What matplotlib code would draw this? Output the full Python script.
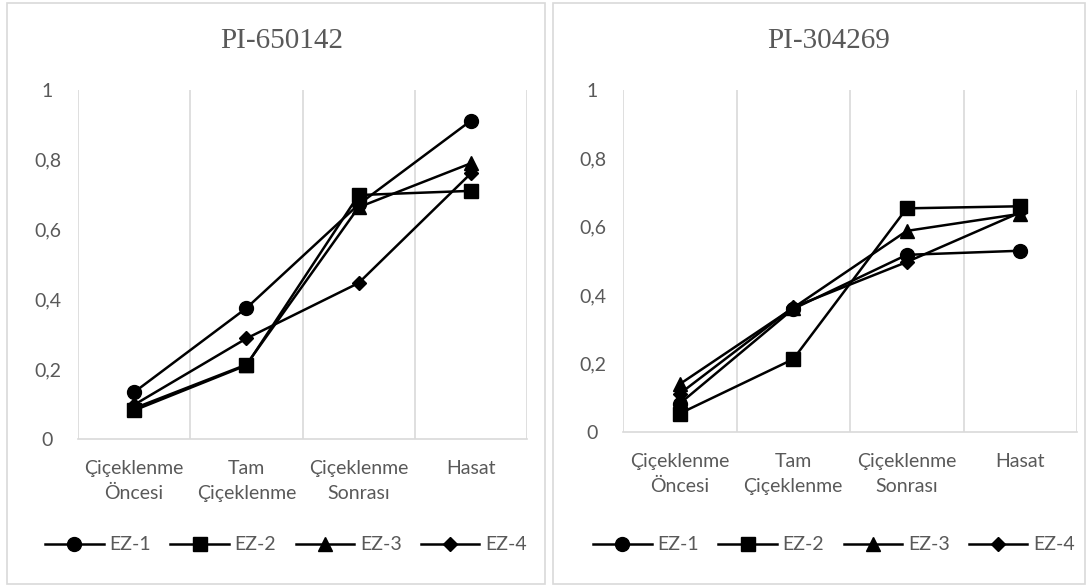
import matplotlib.pyplot as plt
from matplotlib.patches import Rectangle
from matplotlib.ticker import FuncFormatter

categories = ["Çiçeklenme\nÖncesi", "Tam\nÇiçeklenme", "Çiçeklenme\nSonrası", "Hasat"]
series_names = ["EZ-1", "EZ-2", "EZ-3", "EZ-4"]
markers = ["o", "s", "^", "D"]
marker_sizes = [10, 9.5, 9.5, 7]

# PI-650142
pi650_ez1 = [0.134, 0.375, 0.672, 0.912]
pi650_ez2 = [0.082, 0.211, 0.699, 0.711]
pi650_ez3 = [0.088, 0.213, 0.664, 0.790]
pi650_ez4 = [0.098, 0.288, 0.447, 0.761]

# PI-304269
pi304_ez1 = [0.083, 0.360, 0.518, 0.530]
pi304_ez2 = [0.054, 0.213, 0.654, 0.660]
pi304_ez3 = [0.140, 0.363, 0.588, 0.638]
pi304_ez4 = [0.112, 0.365, 0.497, 0.642]

yticks = [0, 0.2, 0.4, 0.6, 0.8, 1]

TEXT = "#595959"
GRID = "#d9d9d9"
plt.rcParams['font.family'] = ['Lato', 'DejaVu Sans']

fig = plt.figure(figsize=(10.86, 5.86), dpi=100)
W, H = 1086, 586

# panel borders
for x0, x1 in [(7, 545), (553, 1085)]:
    fig.patches.append(Rectangle((x0 / W, 1 - 584 / H), (x1 - x0) / W, 581 / H,
                                 transform=fig.transFigure, fill=False,
                                 edgecolor=GRID, linewidth=1.2))


def draw_panel(rect, title, data, title_x, legend_center, legend_y):
    ax = fig.add_axes(rect)
    x = list(range(len(categories)))
    for vals, name, m, ms in zip(data, series_names, markers, marker_sizes):
        ax.plot(x, vals, color="black", linewidth=1.8, marker=m, markersize=ms,
                label=name, clip_on=False)
    ax.set_xlim(-0.5, len(categories) - 0.5)
    ax.set_ylim(0, 1)
    ax.set_yticks(yticks)
    ax.yaxis.set_major_formatter(FuncFormatter(lambda v, p: f"{v:g}".replace(".", ",")))
    ax.set_xticks(x)
    ax.set_xticklabels(categories, linespacing=1.6)
    for b in [i - 0.5 for i in range(len(categories) + 1)]:
        ax.axvline(b, color=GRID, linewidth=1.2, zorder=0)
    for s in ["top", "right", "left"]:
        ax.spines[s].set_visible(False)
    ax.spines["bottom"].set_color(GRID)
    ax.spines["bottom"].set_linewidth(1.2)
    ax.tick_params(length=0, labelsize=14, labelcolor=TEXT)
    ax.tick_params(axis="y", pad=22)
    ax.tick_params(axis="x", pad=15)
    for lbl in ax.get_yticklabels():
        lbl.set_horizontalalignment("center")
    fig.text(title_x / W, 1 - 41 / H, title, ha="center", va="center",
             family="Liberation Serif", fontsize=21, color=TEXT)
    fig.legend(*ax.get_legend_handles_labels(), loc="center",
               bbox_to_anchor=(legend_center / W, legend_y), ncol=4, frameon=False,
               fontsize=14, labelcolor=TEXT, handlelength=3.0, columnspacing=1.0,
               handletextpad=0.3)
    return ax


draw_panel([78 / W, 1 - 439 / H, (527 - 78) / W, 349 / H], "PI-650142",
           [pi650_ez1, pi650_ez2, pi650_ez3, pi650_ez4], 282, 286, 1 - 545 / H)
draw_panel([623 / W, 1 - 432 / H, (1077 - 623) / W, 342 / H], "PI-304269",
           [pi304_ez1, pi304_ez2, pi304_ez3, pi304_ez4], 829, 834, 1 - 545 / H)

fig.savefig("out.png", dpi=100)
